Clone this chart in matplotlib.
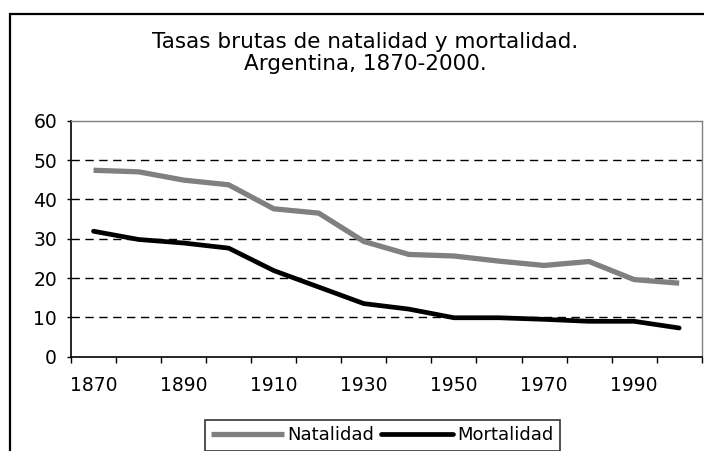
import matplotlib
matplotlib.use("Agg")
import matplotlib.pyplot as plt
from matplotlib.patches import Rectangle
import numpy as np

# Data: crude birth and death rates, Argentina (per 1000)
years = [1870, 1880, 1890, 1900, 1910, 1920, 1930, 1940, 1950, 1960, 1970, 1980, 1990, 2000]
natalidad = [47.4, 47.0, 44.9, 43.7, 37.6, 36.5, 29.3, 26.0, 25.6, 24.3, 23.2, 24.2, 19.6, 18.7]
mortalidad = [31.9, 29.8, 28.9, 27.6, 21.9, 17.7, 13.5, 12.1, 9.9, 9.9, 9.5, 9.0, 9.0, 7.3]
yticks = [0, 10, 20, 30, 40, 50, 60]

plt.rcParams['font.family'] = 'DejaVu Sans'

fig = plt.figure(figsize=(7.04, 4.51), dpi=100)
ax = fig.add_axes([71/704, 1 - 356.7/451, 630.7/704, 236/451])

x = np.arange(len(years))
ax.plot(x, natalidad, color='#808080', lw=3.8, solid_capstyle='butt', label='Natalidad', zorder=3)
ax.plot(x, mortalidad, color='black', lw=3.4, solid_capstyle='round', label='Mortalidad', zorder=4)

ax.set_xlim(-0.5, len(years) - 0.5)
ax.set_ylim(0, 60)

# category axis: tick marks between categories, labels every 20 years
ax.set_xticks(np.arange(-0.5, len(years), 1.0))
ax.set_xticklabels([])
ax.set_xticks(x[::2], minor=True)
ax.set_xticklabels([str(y) for y in years[::2]], minor=True)
ax.tick_params(axis='x', which='major', direction='out', length=4.5, width=1, color='black')
ax.tick_params(axis='x', which='minor', length=0, pad=14, labelsize=13.5)

ax.set_yticks(yticks)
ax.tick_params(axis='y', direction='out', length=3, width=1, pad=7, labelsize=13.5)

# dashed gridlines
for v in yticks[1:-1]:
    ax.axhline(v, color='black', lw=1, dashes=(6, 4), zorder=1)

ax.spines['left'].set_color('black')
ax.spines['bottom'].set_color('black')
ax.spines['left'].set_linewidth(1.2)
ax.spines['bottom'].set_linewidth(1.2)
ax.spines['top'].set_color('#808080')
ax.spines['right'].set_color('#808080')
ax.spines['top'].set_linewidth(1)
ax.spines['right'].set_linewidth(1)

# title
fig.text(365/704, 1 - 48/451, 'Tasas brutas de natalidad y mortalidad.',
         ha='center', va='baseline', fontsize=15.5)
fig.text(365/704, 1 - 70/451, 'Argentina, 1870-2000.',
         ha='center', va='baseline', fontsize=15.5)

# chart area border (right and bottom edges fall outside the picture)
fig.patches.append(Rectangle((10/704, -0.2), 1.2, 1.2 - 14/451,
                             transform=fig.transFigure, fill=False,
                             edgecolor='black', lw=1.6))

leg = fig.legend(loc='upper left', bbox_to_anchor=(205/704, 1 - 420/451), ncol=2,
                 fontsize=13, frameon=True, fancybox=False, edgecolor='black',
                 handlelength=4.0, handletextpad=0.2, columnspacing=0.4,
                 borderpad=0.35, borderaxespad=0)
leg.get_frame().set_linewidth(1.2)

fig.savefig('out.png', dpi=100)
